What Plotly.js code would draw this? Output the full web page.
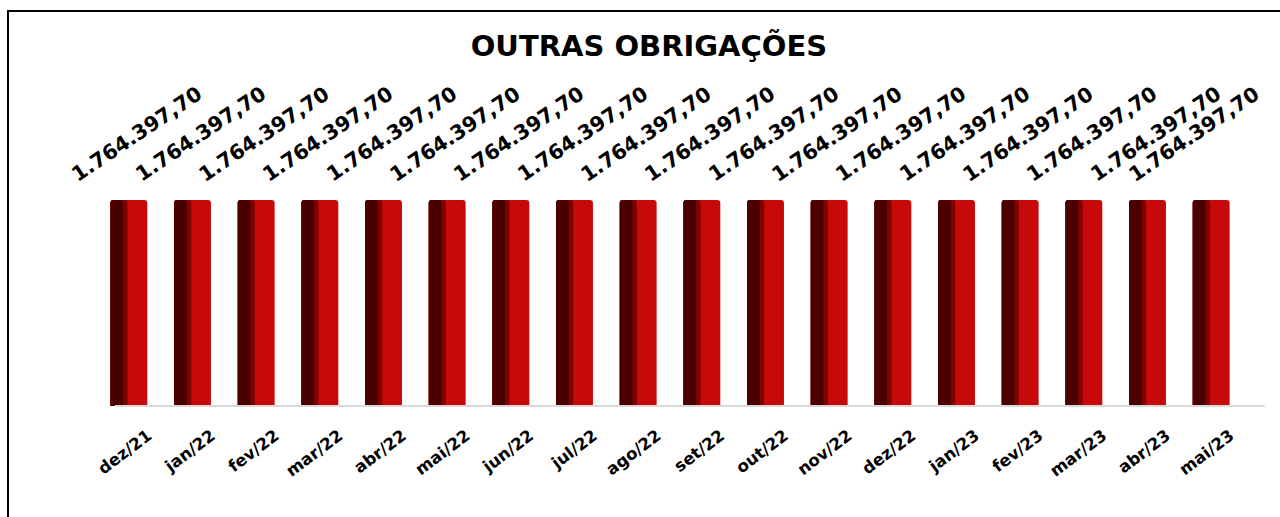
<!DOCTYPE html>
<html><head><meta charset="utf-8">
<script src="https://cdn.plot.ly/plotly-3.0.1.min.js"></script>
<style>
html,body{margin:0;padding:0;background:#fff;overflow:hidden;width:1280px;height:517px}
#chart{position:absolute;left:0;top:0;width:1280px;height:517px;}
#frame{position:absolute;left:7px;top:10px;width:1300px;height:540px;border-left:2px solid #000;border-top:2px solid #000;pointer-events:none;}
</style></head><body>
<div id="chart"></div><div id="frame"></div>
<script>
const months = ['dez/21','jan/22','fev/22','mar/22','abr/22','mai/22','jun/22','jul/22','ago/22','set/22','out/22','nov/22','dez/22','jan/23','fev/23','mar/23','abr/23','mai/23'];
const values = [1764397.70,1764397.70,1764397.70,1764397.70,1764397.70,1764397.70,1764397.70,1764397.70,1764397.70,1764397.70,1764397.70,1764397.70,1764397.70,1764397.70,1764397.70,1764397.70,1764397.70,1764397.70];
const chartTitle = 'OUTRAS OBRIGAÇÕES';

function fmtBR(v){
  const parts = v.toFixed(2).split('.');
  const int = parts[0].replace(/\B(?=(\d{3})+(?!\d))/g, '.');
  return int + ',' + parts[1];
}

const common = {x: months, y: values, type: 'bar', hoverinfo: 'skip', showlegend: false};
const traces = [
  Object.assign({}, common, {width: 0.58, offset: -0.29, marker: {color: '#c80909', cornerradius: 3}}),
  Object.assign({}, common, {width: 0.27, offset: -0.29, marker: {color: '#7d0303', cornerradius: 3}}),
  Object.assign({}, common, {width: 0.20, offset: -0.29, marker: {color: '#4a0000', cornerradius: 3}})
];

const annotations = months.map((m, i) => ({
  x: m, y: values[i], xref: 'x', yref: 'y',
  text: fmtBR(values[i]), showarrow: false, textangle: -34,
  xanchor: 'center', yanchor: 'middle',
  xshift: i === months.length - 1 ? -17 : 8, yshift: 66,
  font: {family: 'DejaVu Sans', size: 20.5, color: '#000', weight: 700}
}));

const layout = {
  width: 1280, height: 517,
  paper_bgcolor: '#fff', plot_bgcolor: '#fff',
  margin: {l: 97, r: 37, t: 120, b: 111},
  barmode: 'overlay',
  title: {text: chartTitle, xref: 'container', yref: 'container', x: 0.507, y: 0.911,
          xanchor: 'center', yanchor: 'middle',
          font: {family: 'DejaVu Sans', size: 29, color: '#000', weight: 700}},
  xaxis: {type: 'category', range: [-0.5, 17.5], tickangle: -37, ticks: '',
          showgrid: false, showline: false, zeroline: false,
          ticklabelshift: 19, ticklabelstandoff: 16,
          tickfont: {family: 'DejaVu Sans', size: 16.5, color: '#000', weight: 700}},
  yaxis: {visible: false, range: [0, 2450000], fixedrange: true},
  shapes: [{type: 'line', xref: 'paper', yref: 'paper', x0: 0.0157, x1: 1.019, y0: 0, y1: 0,
            line: {color: '#d9d9d9', width: 2}}],
  annotations: annotations
};

Plotly.newPlot('chart', traces, layout, {displayModeBar: false, staticPlot: true});
</script>
</body></html>
